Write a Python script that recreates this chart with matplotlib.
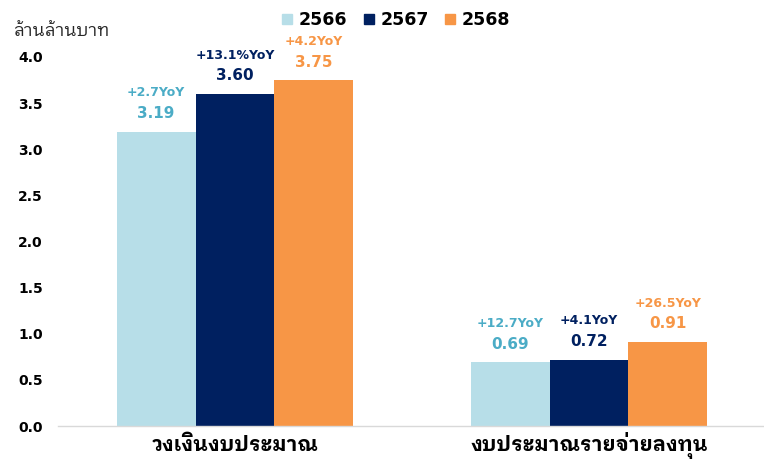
import numpy as np
import matplotlib
matplotlib.use('Agg')
import matplotlib.pyplot as plt
from matplotlib.lines import Line2D

# ข้อมูล (ล้านล้านบาท)
categories = ['วงเงินงบประมาณ', 'งบประมาณรายจ่ายลงทุน']
years = ['2566', '2567', '2568']
values = {
    '2566': [3.19, 0.69],
    '2567': [3.60, 0.72],
    '2568': [3.75, 0.91],
}
yoy_labels = {
    '2566': ['+2.7YoY', '+12.7YoY'],
    '2567': ['+13.1%YoY', '+4.1YoY'],
    '2568': ['+4.2YoY', '+26.5YoY'],
}
y_ticks = [0.0, 0.5, 1.0, 1.5, 2.0, 2.5, 3.0, 3.5, 4.0]

bar_colors = {'2566': '#B7DEE8', '2567': '#002060', '2568': '#F79646'}
text_colors = {'2566': '#4BACC6', '2567': '#002060', '2568': '#F79646'}

THAI = ['IBM Plex Sans Thai Looped', 'DejaVu Sans']
NUM = ['DejaVu Sans']

fig = plt.figure(figsize=(7.64, 4.61), dpi=100)
ax = fig.add_axes([58 / 764, 1 - 426 / 461, 708 / 764, (426 - 57) / 461])

x = np.arange(len(categories))
width = 0.223
for i, yr in enumerate(years):
    pos = x + (i - 1) * width
    bars = ax.bar(pos, values[yr], width=width, color=bar_colors[yr], zorder=2)
    for b, v, lab in zip(bars, values[yr], yoy_labels[yr]):
        cx = b.get_x() + b.get_width() / 2
        ax.annotate(f'{v:.2f}', (cx, v), xytext=(0, 13), textcoords='offset points',
                    ha='center', va='center', fontsize=11, fontweight='bold',
                    color=text_colors[yr], family=NUM, annotation_clip=False)
        ax.annotate(lab, (cx, v), xytext=(0, 28), textcoords='offset points',
                    ha='center', va='center', fontsize=9, fontweight='bold',
                    color=text_colors[yr], family=NUM, annotation_clip=False)

ax.set_xlim(-0.5, 1.5)
ax.set_ylim(0, 4.0)
ax.set_yticks(y_ticks)
ax.set_yticklabels([f'{t:.1f}' for t in y_ticks], fontsize=10, fontweight='bold', family=NUM)
ax.set_xticks(x)
ax.set_xticklabels(categories, fontsize=14.8, fontweight='bold', family=THAI)
for t in ax.get_xticklabels():
    t.set_va('baseline')
ax.tick_params(axis='y', length=0, pad=11)
ax.tick_params(axis='x', length=0, pad=18)

for s in ['top', 'right', 'left']:
    ax.spines[s].set_visible(False)
ax.spines['bottom'].set_color('#D9D9D9')
ax.spines['bottom'].set_linewidth(1)

fig.text(13 / 764, 1 - 31 / 461, 'ล้านล้านบาท', ha='left', va='center',
         fontsize=12.7, color='#262626', family=THAI)

handles = [Line2D([], [], marker='s', linestyle='none', markersize=7,
                  markerfacecolor=bar_colors[yr], markeredgecolor=bar_colors[yr])
           for yr in years]
leg = fig.legend(handles, years, loc='center', bbox_to_anchor=(0.518, 1 - 20 / 461),
                 ncol=3, frameon=False, handlelength=0.7, handletextpad=0.3,
                 columnspacing=0.9, prop={'family': NUM, 'weight': 'bold', 'size': 12.5})

fig.savefig('out.png', dpi=100)
